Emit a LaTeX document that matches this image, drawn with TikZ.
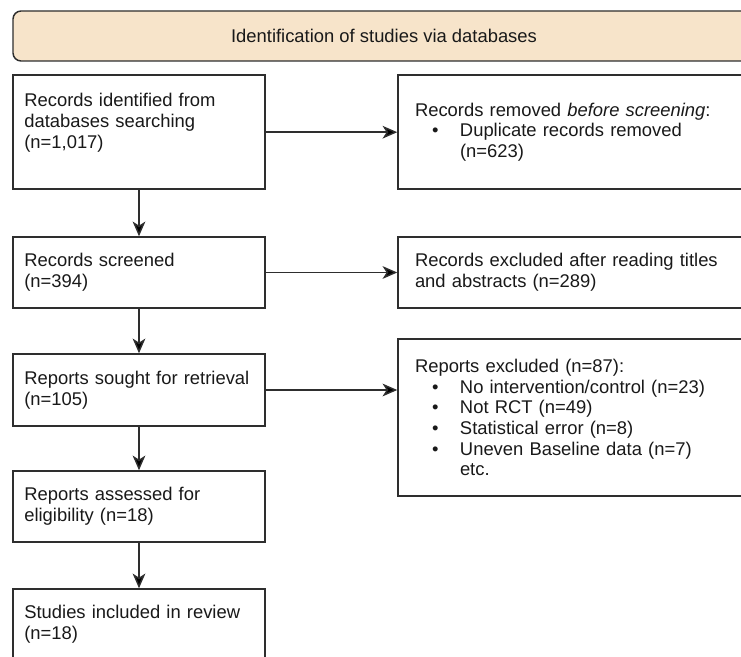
\documentclass[tikz,border=0pt]{standalone}
\usepackage{fontspec}
\setmainfont{Liberation Sans}
\usepackage{tikz}
\usetikzlibrary{arrows.meta}
\definecolor{headFill}{HTML}{F7E4CA}
\definecolor{lineGray}{HTML}{2E2E2E}
\newcommand{\bulletItem}[1]{\hspace*{12.75pt}\makebox[21pt][l]{\textbullet}#1}
\newcommand{\itemCont}[1]{\hspace*{33.75pt}#1}

\begin{document}
\begin{tikzpicture}[x=0.75pt, y=-0.75pt,
        every node/.style={font=\fontsize{13.8pt}{15.5pt}\selectfont, text=black!90}]
        \tikzstyle{headStyle} = [draw=lineGray, line width=1.1pt, fill=headFill, rounded corners=6pt, minimum width=556.5pt, minimum height=37.5pt]
        \tikzstyle{boxStyle} = [draw=lineGray, line width=1.1pt, fill=white, align=left, text width=172pt, inner xsep=8.5pt, minimum height=53.25pt]
        \tikzstyle{sideStyle} = [boxStyle, text width=246pt, inner xsep=12.75pt]
        \tikzstyle{arrowEdge} = [draw=lineGray, line width=1.1pt, -{Stealth[length=11pt, width=9.5pt, inset=3pt]}]
        \useasboundingbox (0,0) rectangle (741,656);
        \node[headStyle] (H) at (384,36) {Identification of studies via databases};
        \node[boxStyle, minimum height=85.5pt] (B1) at (139,132.2) {Records identified from\\databases searching\\(n=1,017)\\[-3pt]\strut};
        \node[boxStyle] (B2) at (139,272.5) {Records screened\\(n=394)};
        \node[boxStyle, minimum height=54pt] (B3) at (139,390) {Reports sought for retrieval\\(n=105)};
        \node[boxStyle] (B4) at (139,506.5) {Reports assessed for\\eligibility (n=18)};
        \node[boxStyle] (B5) at (139,624.5) {Studies included in review\\(n=18)};
        \node[sideStyle, minimum height=85.5pt] (R1) at (579,132.2) {Records removed \textit{before screening}:\\\bulletItem{Duplicate records removed}\\\itemCont{(n=623)}};
        \node[sideStyle] (R2) at (579,272.5) {Records excluded after reading titles\\and abstracts (n=289)};
        \node[sideStyle, minimum height=117.75pt] (R3) at (579,417.5) {Reports excluded (n=87):\\\bulletItem{No intervention/control (n=23)}\\\bulletItem{Not RCT (n=49)}\\\bulletItem{Statistical error (n=8)}\\\bulletItem{Uneven Baseline data (n=7)}\\\itemCont{etc.}};
        \coordinate (R3in) at (B3 -| R3.west);
        \path[arrowEdge] (B1) edge (B2);
        \path[arrowEdge] (B2) edge (B3);
        \path[arrowEdge] (B3) edge (B4);
        \path[arrowEdge] (B4) edge (B5);
        \path[arrowEdge] (B1) edge (R1);
        \path[arrowEdge] (B2) edge (R2);
        \path[arrowEdge] (B3) edge (R3in);
    \end{tikzpicture}
\end{document}
